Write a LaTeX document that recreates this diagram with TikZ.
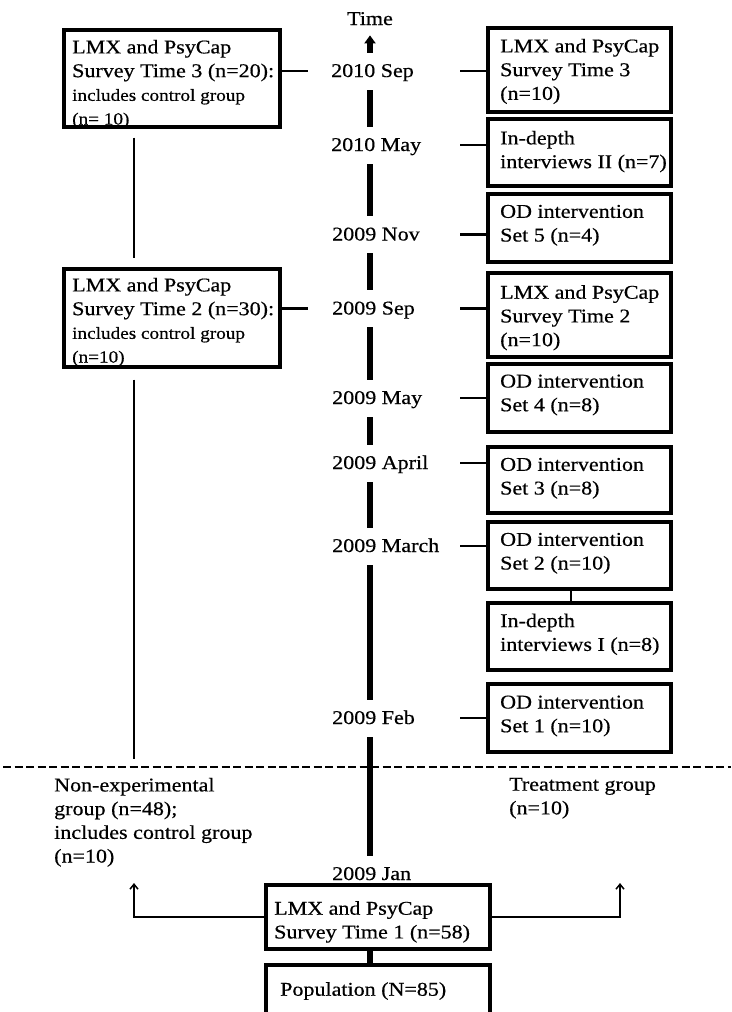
\documentclass[tikz,border=0pt]{standalone}
\usepackage{fontspec}
\setmainfont{Liberation Serif}[FakeStretch=1.13,FakeBold=0.5]
\usetikzlibrary{arrows.meta,backgrounds}
\newcommand\smallfnt{\fontsize{17}{23}\selectfont}
\begin{document}
\begin{tikzpicture}[x=1pt,y=-1pt,
  font=\fontsize{19.5}{23.7}\selectfont,
  frame/.style={draw, line width=3.2pt, inner sep=0pt},
  txt/.style={anchor=north west, align=left, inner sep=0pt},
  datelbl/.style={anchor=west, fill=white, inner sep=0pt,
    minimum height=37pt, text height=16pt, text depth=4pt},
  stub/.style={line width=2.2pt},
  thinline/.style={line width=1.5pt},
  axisline/.style={line width=5.5pt},
  ]
\useasboundingbox (0,0) rectangle (731,1012);

% helper coordinates for columns and free ends
\coordinate (axisx) at (370,0);
\coordinate (lcol) at (134,0);
\coordinate (ccol) at (571,0);
\coordinate (lstub) at (308,0);
\coordinate (rstub) at (460,0);
\coordinate (lend) at (134,759);
\coordinate (ltip) at (134,883);
\coordinate (rtip) at (620,883);
\coordinate (dashL) at (3,767);
\coordinate (dashR) at (731,767);

% time axis labels
\node[anchor=base, inner sep=0pt] (timelbl) at (370,25) {Time};
\node[datelbl] (sep10) at (331,71)    {2010 Sep};
\node[datelbl] (may10) at (331,145)   {2010 May};
\node[datelbl] (nov09) at (332,234.5) {2009 Nov};
\node[datelbl] (sep09) at (332,308.5) {2009 Sep};
\node[datelbl] (may09) at (332,398)   {2009 May};
\node[datelbl] (apr09) at (332,463)   {2009 April};
\node[datelbl] (mar09) at (332,546)   {2009 March};
\node[datelbl] (feb09) at (332,718)   {2009 Feb};
\node[datelbl] (jan09) at (332,874)   {2009 Jan};

% frames
\node[frame, minimum width=216pt, minimum height=97pt] (lb1) at (172,78.5) {};
\node[frame, minimum width=216pt, minimum height=98pt] (lb2) at (172,318) {};
\node[frame, minimum width=183pt, minimum height=84pt] (rb1) at (579.5,70) {};
\node[frame, minimum width=183pt, minimum height=67pt] (rb2) at (579.5,152.5) {};
\node[frame, minimum width=183pt, minimum height=68pt] (rb3) at (579.5,228) {};
\node[frame, minimum width=183pt, minimum height=84pt] (rb4) at (579.5,315) {};
\node[frame, minimum width=183pt, minimum height=68pt] (rb5) at (579.5,398) {};
\node[frame, minimum width=183pt, minimum height=66pt] (rb6) at (579.5,480) {};
\node[frame, minimum width=183pt, minimum height=67pt] (rb7) at (579.5,555.5) {};
\node[frame, minimum width=183pt, minimum height=67pt] (rb8) at (579.5,636.5) {};
\node[frame, minimum width=183pt, minimum height=68pt] (rb9) at (579.5,718) {};
\node[frame, minimum width=224pt, minimum height=64pt] (t1) at (378,917) {};
\node[frame, minimum width=224pt, minimum height=55pt] (pop) at (378,992.5) {};

% texts inside the frames
\node[txt] (lb1t) at (72,39.7) {LMX and PsyCap\\Survey Time 3 (n=20):\\\smallfnt includes control group\\\smallfnt (n= 10)};
\node[txt] (lb2t) at (72,277.7) {LMX and PsyCap\\Survey Time 2 (n=30):\\\smallfnt includes control group\\\smallfnt (n=10)};
\node[txt] (rb1t) at (500,38.7) {LMX and PsyCap\\Survey Time 3\\(n=10)};
\node[txt] (rb2t) at (500,130.7) {In-depth\\interviews II (n=7)};
\node[txt] (rb3t) at (500,204.7) {OD intervention\\Set 5 (n=4)};
\node[txt] (rb4t) at (500,285) {LMX and PsyCap\\Survey Time 2\\(n=10)};
\node[txt] (rb5t) at (500,374.4) {OD intervention\\Set 4 (n=8)};
\node[txt] (rb6t) at (500,457.7) {OD intervention\\Set 3 (n=8)};
\node[txt] (rb7t) at (500,532.7) {OD intervention\\Set 2 (n=10)};
\node[txt] (rb8t) at (500,613.4) {In-depth\\interviews I (n=8)};
\node[txt] (rb9t) at (500,695.4) {OD intervention\\Set 1 (n=10)};
\node[txt] (t1t) at (274,901) {LMX and PsyCap\\Survey Time 1 (n=58)};
\node[txt] (popt) at (280,982) {Population (N=85)};

% group captions below the dashed divider
\node[txt] (nonexp) at (54,777.7) {Non-experimental\\group (n=48);\\includes control group\\(n=10)};
\node[txt] (treat) at (509,777.7) {Treatment group\\(n=10)};

% stubs from the events to the axis
\draw[stub] (sep10.center -| lb1.east) -- (sep10.center -| lstub);
\draw[stub] (sep09.center -| lb2.east) -- (sep09.center -| lstub);
\draw[stub] (sep10.center -| rb1.west) -- (sep10.center -| rstub);
\draw[stub] (may10.center -| rb2.west) -- (may10.center -| rstub);
\draw[stub] (nov09.center -| rb3.west) -- (nov09.center -| rstub);
\draw[stub] (sep09.center -| rb4.west) -- (sep09.center -| rstub);
\draw[stub] (may09.center -| rb5.west) -- (may09.center -| rstub);
\draw[stub] (apr09.center -| rb6.west) -- (apr09.center -| rstub);
\draw[stub] (mar09.center -| rb7.west) -- (mar09.center -| rstub);
\draw[stub] (feb09.center -| rb9.west) -- (feb09.center -| rstub);
\draw[stub] (rb7.south -| ccol) -- (rb8.north -| ccol);

% control-group line on the left
\draw[thinline, shorten <=9pt, shorten >=9pt] (lb1.south -| lcol) -- (lb2.north -| lcol);
\draw[thinline, shorten <=11pt] (lb2.south -| lcol) -- (lend);

% split of the first survey into the two groups
\draw[thinline, -{Straight Barb[length=5pt,width=8pt]}] (t1.west) -| (ltip);
\draw[thinline, -{Straight Barb[length=5pt,width=8pt]}] (t1.east) -| (rtip);

% population to first survey
\draw[line width=6pt] (pop.north -| axisx) -- (t1.south -| axisx);

\begin{scope}[on background layer]
  \draw[line width=2.6pt, dash pattern=on 8pt off 3.5pt] (dashL) -- (dashR);
  \draw[axisline, -{Triangle[length=8pt,width=11pt]}, shorten >=10pt]
    (t1.north -| axisx) -- (timelbl.south -| axisx);
\end{scope}
\end{tikzpicture}
\end{document}
